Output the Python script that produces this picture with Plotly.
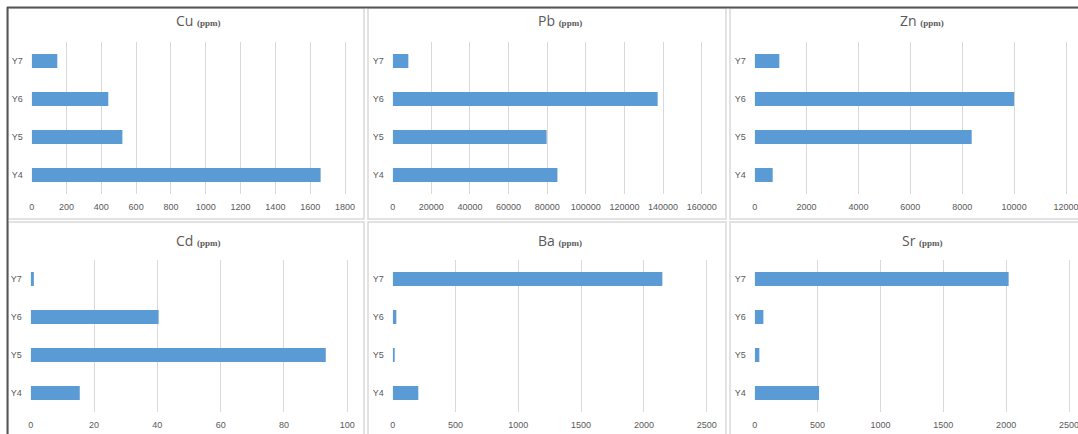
import plotly.graph_objects as go

categories = ["Y4", "Y5", "Y6", "Y7"]
elements = ["Cu", "Pb", "Zn", "Cd", "Ba", "Sr"]
cu = [1660, 521, 440, 147]
pb = [85300, 79700, 137200, 8100]
zn = [694, 8365, 10000, 950]
cd = [15.5, 93.2, 40.4, 1.0]
ba = [204, 11, 29, 2147]
sr = [512, 37, 69, 2020]
axis_max = [1800, 160000, 12000, 100, 2500, 2500]
axis_step = [200, 20000, 2000, 20, 500, 500]

series = [cu, pb, zn, cd, ba, sr]

W, H = 1078, 434
def fx(px):
    return px / W
def fy(py):
    return 1 - py / H

# plot-area pixel boxes (left, right, top, bottom)
boxes = [
    (31.7, 345.0, 42, 194),
    (392.7, 701.7, 42, 194),
    (754.7, 1066.0, 42, 194),
    (30.7, 347.3, 260, 412),
    (392.7, 706.7, 260, 412),
    (754.7, 1069.0, 260, 412),
]
title_pos = [(198, 21), (560, 21), (922, 21), (198, 240), (560, 240), (922, 240)]
PAD = 0.006

fig = go.Figure()
tick_font = dict(family="Liberation Sans", size=9, color="#595959")
for i, (name, vals) in enumerate(zip(elements, series)):
    n = "" if i == 0 else str(i + 1)
    fig.add_trace(go.Bar(
        x=vals, y=categories, orientation="h",
        marker=dict(color="#5b9bd5", line=dict(width=0)),
        xaxis="x" + n, yaxis="y" + n, showlegend=False, width=0.37,
    ))
    l, r, t, b = boxes[i]
    r2 = r + (r - l) * PAD
    fig.layout["xaxis" + n] = dict(
        domain=[fx(l), min(fx(r2), 1.0)], range=[0, axis_max[i] * (1 + PAD)],
        dtick=axis_step[i], tick0=0,
        tickformat="d", automargin=False, ticklabeloverflow="allow",
        showgrid=True, gridcolor="#d9d9d9", gridwidth=1, zeroline=False,
        showline=False, ticks="", tickfont=tick_font, anchor="y" + n,
        ticklabelstandoff=6, fixedrange=True,
    )
    fig.layout["yaxis" + n] = dict(
        domain=[fy(b), fy(t)], type="category", showgrid=False, zeroline=False,
        showline=False, ticks="", tickfont=tick_font, anchor="x" + n,
        ticklabelstandoff=8, fixedrange=True, automargin=False,
    )
    tx, ty = title_pos[i]
    fig.add_annotation(
        x=fx(tx), y=fy(ty), xref="paper", yref="paper", showarrow=False,
        xanchor="center", yanchor="middle",
        text=name + " <span style='font-size:9px;font-family:Liberation Serif'><b>(ppm)</b></span>",
        font=dict(family="Open Sans", size=14, color="#595959"),
    )

shapes = []
# panel borders
for (x0, x1) in [(8, 364), (368, 726), (730, 1085)]:
    for (y0, y1) in [(8, 219), (222, 445)]:
        shapes.append(dict(type="rect", xref="paper", yref="paper",
                           x0=fx(x0), x1=fx(x1), y0=fy(y1), y1=fy(y0),
                           line=dict(color="#d9d9d9", width=1.5), layer="below"))
# dark outer lines
shapes.append(dict(type="line", xref="paper", yref="paper", x0=fx(7), x1=1, y0=fy(7.5), y1=fy(7.5),
                   line=dict(color="#555555", width=2)))
shapes.append(dict(type="line", xref="paper", yref="paper", x0=fx(7.5), x1=fx(7.5), y0=0, y1=fy(7),
                   line=dict(color="#555555", width=2)))

fig.update_layout(
    width=W, height=H, margin=dict(l=0, r=0, t=0, b=0, autoexpand=False),
    paper_bgcolor="white", plot_bgcolor="white",
    shapes=shapes, bargap=0.63,
)
fig.write_html("out.html")
